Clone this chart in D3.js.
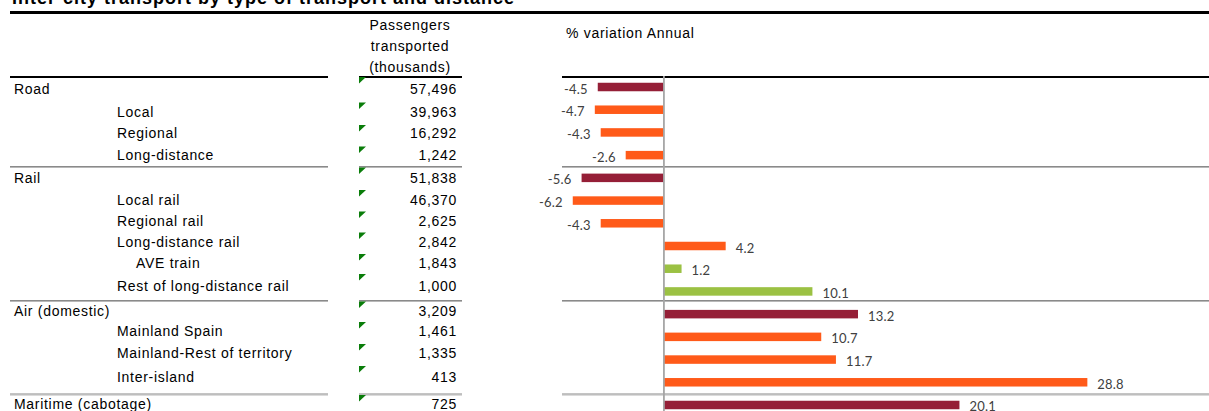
<!DOCTYPE html>
<html>
<head>
<meta charset="utf-8">
<script src="https://cdn.jsdelivr.net/npm/d3@7"></script>
<style>
  html, body { margin: 0; padding: 0; background: #fff; }
  svg { display: block; }
  .tbl { font-family: "Liberation Sans", Arial, sans-serif; font-size: 14px; letter-spacing: 0.7px; fill: #000; }
  .lbl { font-family: Lato, "Open Sans", sans-serif; font-size: 13px; letter-spacing: 0.2px; fill: #404040; }
</style>
</head>
<body>
<svg id="chart" width="1209" height="411"></svg>
<script>
// ---- data ----
const title = "Inter-city transport by type of transport and distance";
const headerLines = ["Passengers", "transported", "(thousands)"];
const variationTitle = "% variation Annual";
const categories = ["Road", "Local", "Regional", "Long-distance", "Rail", "Local rail", "Regional rail",
  "Long-distance rail", "AVE train", "Rest of long-distance rail", "Air (domestic)", "Mainland Spain",
  "Mainland-Rest of territory", "Inter-island", "Maritime (cabotage)"];
const levels = [0, 1, 1, 1, 0, 1, 1, 1, 2, 1, 0, 1, 1, 1, 0];
const passengers = [57496, 39963, 16292, 1242, 51838, 46370, 2625, 2842, 1843, 1000, 3209, 1461, 1335, 413, 725];
const variation = [-4.5, -4.7, -4.3, -2.6, -5.6, -6.2, -4.3, 4.2, 1.2, 10.1, 13.2, 10.7, 11.7, 28.8, 20.1];
const barType = ["total", "sub", "sub", "sub", "total", "sub", "sub", "sub", "detail", "detail",
  "total", "sub", "sub", "sub", "total"];

// ---- layout (spreadsheet row geometry) ----
const rowTop = [77, 102.5, 125, 146.5, 167.5, 190, 211.5, 232.5, 254, 274, 301.5, 322, 344, 366, 395];
const textY = [89, 111.5, 133, 155, 177.5, 199.5, 221, 242, 263, 286, 310.5, 331, 353, 377, 403.5];
const indentX = [14, 117, 136];
const colors = { total: "#951F37", sub: "#FF5A19", detail: "#9BC143" };

const svg = d3.select("#chart");
const n = categories.length;
const idx = d3.range(n);

// title
svg.append("text").attr("x", 12).attr("y", 4)
  .style("font-family", "'Liberation Sans', Arial, sans-serif")
  .style("font-size", "18px").style("font-weight", "bold").style("letter-spacing", "1px")
  .text(title);
svg.append("rect").attr("x", 10).attr("y", 11).attr("width", 1199).attr("height", 3).attr("fill", "#000");

// header
svg.selectAll("text.hdr").data(headerLines).join("text")
  .attr("class", "tbl hdr").attr("x", 410).attr("y", (d, i) => 25 + i * 21)
  .attr("text-anchor", "middle").attr("dominant-baseline", "central").text(d => d);
svg.append("text").attr("class", "tbl").attr("x", 566).attr("y", 33)
  .attr("dominant-baseline", "central").text(variationTitle);

// header rules
const rules = [[10, 328], [359, 462], [562, 1209]];
rules.forEach(([a, b]) => svg.append("rect").attr("x", a).attr("y", 76).attr("width", b - a).attr("height", 2).attr("fill", "#000"));

// group separators (before each level-0 row except the first)
const sepRows = idx.filter(i => i > 0 && levels[i] === 0);
sepRows.forEach(i => {
  const y = rowTop[i] - 1.5;
  rules.forEach(([a, b]) => {
    svg.append("rect").attr("x", a).attr("y", y).attr("width", b - a).attr("height", 1).attr("fill", "#8a8a8a");
    svg.append("rect").attr("x", a).attr("y", y + 1).attr("width", b - a).attr("height", 1).attr("fill", "#b8b8b8");
  });
});

// table text
svg.selectAll("text.cat").data(idx).join("text")
  .attr("class", "tbl cat").attr("x", i => indentX[levels[i]]).attr("y", i => textY[i])
  .attr("dominant-baseline", "central").text(i => categories[i]);
const fmt = d3.format(",");
svg.selectAll("text.num").data(idx).join("text")
  .attr("class", "tbl num").attr("x", 457).attr("y", i => textY[i])
  .attr("text-anchor", "end").attr("dominant-baseline", "central").text(i => fmt(passengers[i]));
// green indicator triangles
svg.selectAll("path.tri").data(idx).join("path")
  .attr("class", "tri").attr("fill", "#0a7d0a")
  .attr("d", i => `M359,${rowTop[i]} L366,${rowTop[i]} L359,${rowTop[i] + 6.5} Z`);

// bars
const x = d3.scaleLinear().domain([-7, 30]).range([561, 1105]);
const y = d3.scaleBand().domain(idx).range([75.65, 416.35]);
const bh = 8.5;

svg.selectAll("rect.bar").data(idx).join("rect")
  .attr("class", "bar")
  .attr("x", i => x(Math.min(0, variation[i])))
  .attr("y", i => y(i) + y.bandwidth() / 2 - bh / 2)
  .attr("width", i => Math.abs(x(variation[i]) - x(0)))
  .attr("height", bh)
  .attr("fill", i => colors[barType[i]]);

// zero line
svg.append("line").attr("x1", x(0)).attr("x2", x(0)).attr("y1", 76).attr("y2", 411)
  .attr("stroke", "#a6a6a6").attr("stroke-width", 1.8);

// value labels (hyphen-minus as in the reference)
const vfmt = v => d3.format(".1f")(v).replace("\u2212", "-");
svg.selectAll("text.lbl").data(idx).join("text")
  .attr("class", "lbl")
  .attr("x", i => variation[i] < 0 ? x(variation[i]) - 10 : x(variation[i]) + 10)
  .attr("y", i => y(i) + y.bandwidth() / 2 + 1.5)
  .attr("text-anchor", i => variation[i] < 0 ? "end" : "start")
  .attr("dominant-baseline", "central")
  .text(i => vfmt(variation[i]));
</script>
</body>
</html>
